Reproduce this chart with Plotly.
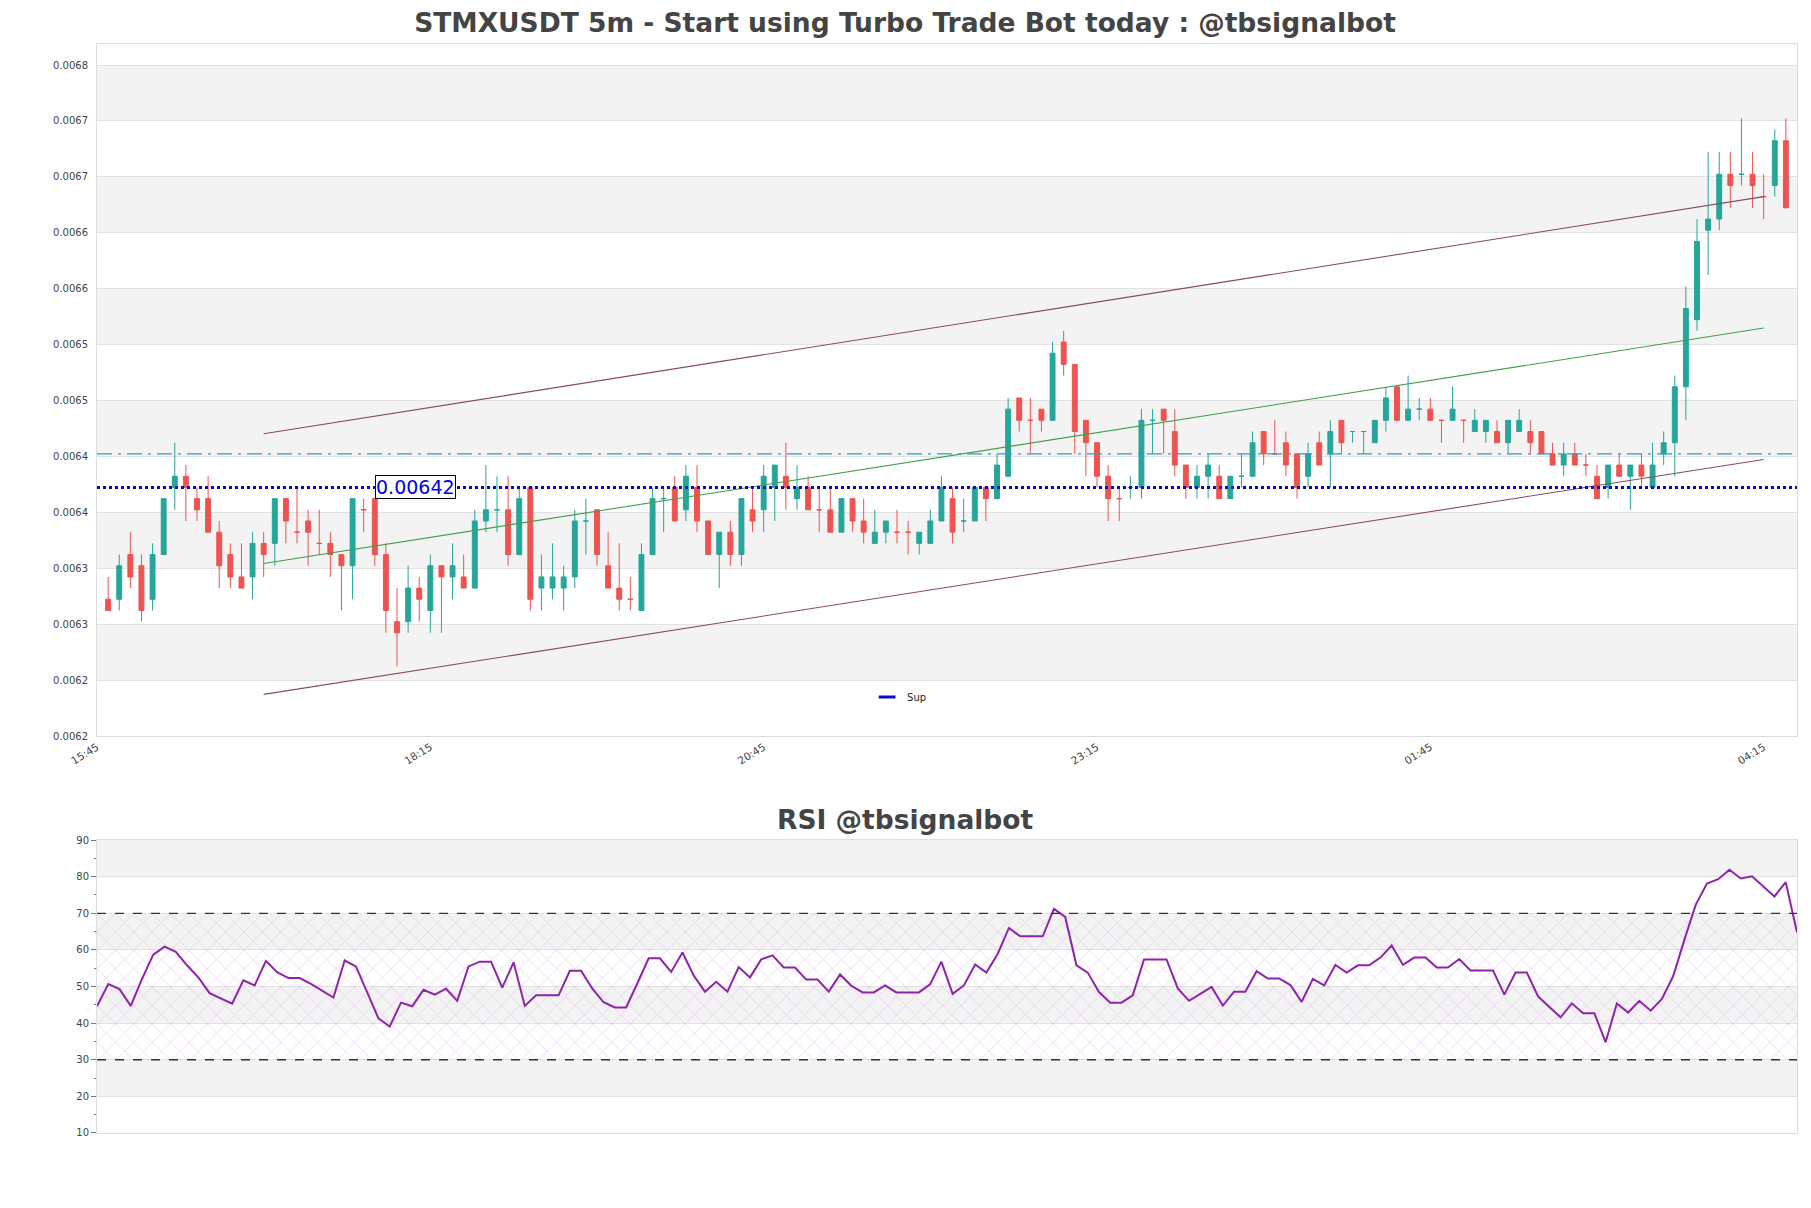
import pandas as pd
import plotly.graph_objects as go

TITLE = "STMXUSDT 5m - Start using Turbo Trade Bot today : @tbsignalbot"
RSI_TITLE = "RSI @tbsignalbot"
START = "2024-03-14 15:50"
STEP = pd.Timedelta(minutes=5)
PRICE_UNIT = 1e-5

# OHLC in units of 0.00001
OPEN = [632, 632, 636, 635, 632, 636, 642, 643, 641, 641, 638, 636, 634, 634, 637, 637, 641, 638, 639, 637,
        637, 636, 635, 640, 641, 636, 630, 630, 633, 631, 635, 634, 634, 633, 639, 640, 640, 636, 642, 633,
        633, 633, 634, 639, 640, 635, 633, 632, 631, 636, 641, 642, 640, 642, 639, 636, 638, 636, 640, 640,
        642, 643, 641, 642, 640, 640, 638, 641, 639, 637, 638, 638, 638, 637, 637, 639, 641, 639, 639, 642,
        641, 643, 650, 648, 649, 648, 655, 653, 648, 646, 643, 641, 642, 642, 648, 649, 647, 644, 642, 643,
        643, 641, 643, 643, 647, 645, 646, 645, 643, 646, 645, 648, 647, 647, 646, 648, 651, 648, 649, 649,
        648, 648, 648, 647, 647, 647, 646, 647, 647, 647, 645, 644, 645, 644, 643, 642, 644, 643, 644, 642,
        645, 646, 651, 657, 665, 666, 670, 670, 670, 668, 669, 673]
CLOSE = [631, 635, 634, 631, 636, 641, 643, 642, 640, 638, 635, 634, 633, 637, 636, 641, 639, 638, 638, 637,
         636, 635, 641, 640, 636, 631, 629, 633, 632, 635, 634, 635, 633, 639, 640, 640, 636, 641, 632, 634,
         634, 634, 639, 639, 636, 633, 632, 632, 636, 641, 641, 639, 643, 639, 636, 638, 636, 641, 639, 643,
         644, 642, 642, 640, 640, 638, 641, 639, 638, 638, 639, 638, 638, 638, 639, 642, 638, 639, 642, 641,
         644, 649, 648, 648, 648, 654, 653, 647, 646, 643, 641, 641, 642, 648, 648, 648, 644, 642, 643, 644,
         641, 643, 643, 646, 645, 645, 644, 642, 645, 644, 647, 646, 647, 647, 648, 650, 648, 649, 649, 648,
         648, 649, 648, 648, 648, 646, 648, 648, 646, 645, 644, 645, 644, 644, 641, 644, 643, 644, 643, 644,
         646, 651, 658, 664, 666, 670, 669, 670, 669, 668, 673, 667]
HIGH = [634, 636, 638, 636, 637, 641, 646, 644, 642, 643, 639, 637, 637, 638, 638, 641, 641, 642, 640, 640,
        638, 636, 641, 641, 641, 637, 633, 635, 634, 636, 635, 637, 636, 640, 644, 643, 643, 642, 642, 636,
        637, 635, 640, 641, 640, 638, 637, 634, 637, 642, 642, 643, 644, 644, 639, 638, 639, 641, 642, 644,
        644, 646, 644, 643, 642, 642, 641, 641, 641, 640, 639, 640, 639, 638, 640, 643, 642, 641, 642, 642,
        645, 650, 650, 650, 649, 655, 656, 653, 648, 646, 644, 642, 643, 649, 649, 649, 649, 644, 644, 645,
        644, 643, 645, 647, 647, 648, 647, 645, 646, 647, 648, 648, 647, 647, 648, 651, 651, 652, 650, 650,
        648, 651, 648, 649, 648, 648, 648, 649, 648, 647, 646, 646, 646, 645, 644, 644, 645, 644, 645, 646,
        647, 652, 660, 666, 672, 672, 672, 675, 672, 670, 674, 675]
LOW = [631, 631, 633, 630, 631, 636, 640, 639, 639, 638, 633, 633, 633, 632, 634, 635, 637, 637, 635, 636,
       634, 631, 632, 638, 635, 629, 626, 629, 630, 629, 629, 632, 633, 633, 638, 638, 635, 636, 631, 631,
       632, 631, 633, 636, 635, 633, 631, 631, 631, 636, 638, 639, 639, 638, 636, 633, 635, 635, 638, 638,
       639, 640, 640, 640, 638, 638, 638, 638, 637, 637, 637, 637, 636, 636, 637, 639, 637, 638, 639, 639,
       641, 643, 647, 645, 647, 648, 652, 645, 643, 642, 639, 639, 641, 641, 645, 645, 643, 641, 641, 641,
       641, 641, 642, 643, 644, 645, 643, 641, 642, 644, 642, 645, 646, 645, 646, 647, 648, 648, 648, 648,
       646, 648, 646, 647, 646, 646, 645, 647, 645, 645, 644, 643, 644, 643, 641, 641, 643, 640, 642, 642,
       644, 643, 648, 656, 661, 665, 667, 669, 667, 666, 668, 667]

RSI = [44.6, 50.7, 49.3, 44.7, 52.1, 58.7, 60.9, 59.5, 55.8, 52.5, 48.2, 46.7, 45.3, 51.7, 50.3, 57.0,
       53.9, 52.3, 52.3, 50.7, 48.8, 47.0, 57.1, 55.5, 48.4, 41.3, 39.1, 45.6, 44.6, 49.1, 47.8, 49.4,
       46.1, 55.5, 56.8, 56.8, 49.7, 56.6, 44.7, 47.6, 47.6, 47.6, 54.3, 54.3, 49.4, 45.7, 44.3, 44.3,
       50.9, 57.7, 57.7, 54.0, 59.3, 53.0, 48.6, 51.3, 48.6, 55.3, 52.5, 57.4, 58.5, 55.2, 55.2, 51.9,
       51.9, 48.6, 53.3, 50.2, 48.4, 48.4, 50.3, 48.4, 48.4, 48.4, 50.6, 56.8, 48.0, 50.3, 56.0, 53.8,
       58.9, 66.0, 63.7, 63.7, 63.7, 71.2, 69.0, 55.8, 53.8, 48.5, 45.6, 45.6, 47.6, 57.4, 57.4, 57.4,
       49.5, 46.1, 48.0, 49.9, 44.8, 48.6, 48.6, 54.2, 52.2, 52.2, 50.4, 45.8, 52.1, 50.3, 55.9, 53.8,
       55.8, 55.8, 57.9, 61.2, 55.9, 57.9, 57.9, 55.2, 55.2, 57.5, 54.4, 54.4, 54.4, 47.8, 53.8, 53.8,
       47.3, 44.4, 41.6, 45.4, 42.7, 42.7, 34.8, 45.4, 42.9, 46.1, 43.4, 46.6, 52.8, 62.8, 72.3, 78.1,
       79.3, 81.9, 79.5, 80.1, 77.3, 74.6, 78.5, 64.8]

SUP_LEVEL = 0.00642
CYAN_LEVEL = 0.00645
CHANNEL_IDX = [14, 149]
UPPER = [0.006468, 0.006680]
MID = [0.006352, 0.0065625]
LOWER = [0.006235, 0.006445]
ANNOT_INDEX = 27.7

X_TICK_TIMES = ["2024-03-14 15:45", "2024-03-14 18:15", "2024-03-14 20:45",
                "2024-03-14 23:15", "2024-03-15 01:45", "2024-03-15 04:15"]
X_TICK_LABELS = ["15:45", "18:15", "20:45", "23:15", "01:45", "04:15"]
Y_TICK_START = 0.0061977
Y_TICK_STEP = 0.00005
Y_TICK_LABELS = ["0.0062", "0.0062", "0.0063", "0.0063", "0.0064", "0.0064", "0.0065",
                 "0.0065", "0.0066", "0.0066", "0.0067", "0.0067", "0.0068"]
Y_TOP = 0.0068165
RSI_TICKS = [10, 20, 30, 40, 50, 60, 70, 80, 90]
RSI_GRAY_BANDS = [(80, 90), (60, 70), (40, 50), (20, 30)]
RSI_LEVELS = [30, 70]

FONT = "DejaVu Sans"
TXT = "#444444"
W, H = 1795, 1192  # page adds an 8px body margin

t = pd.date_range(START, periods=len(OPEN), freq=STEP)
o = [v * PRICE_UNIT for v in OPEN]
c = [v * PRICE_UNIT for v in CLOSE]
h = [v * PRICE_UNIT for v in HIGH]
l = [v * PRICE_UNIT for v in LOW]
y_ticks = [Y_TICK_START + k * Y_TICK_STEP for k in range(len(Y_TICK_LABELS))]

fig = go.Figure()

# RSI hatch zone 30-70
fig.add_trace(go.Scatter(
    x=[t[0], t[-1], t[-1], t[0], t[0]],
    y=[RSI_LEVELS[0], RSI_LEVELS[0], RSI_LEVELS[1], RSI_LEVELS[1], RSI_LEVELS[0]],
    xaxis="x2", yaxis="y2", mode="lines", line=dict(width=0), fill="toself",
    fillcolor="rgba(0,0,0,0)",
    fillpattern=dict(shape="x", size=13, solidity=0.12, fgcolor="rgba(205,150,220,0.75)"),
    showlegend=False, hoverinfo="skip"))

fig.add_trace(go.Candlestick(
    x=t, open=o, high=h, low=l, close=c,
    increasing=dict(line=dict(color="#26a69a", width=1), fillcolor="#26a69a"),
    decreasing=dict(line=dict(color="#ef5350", width=1), fillcolor="#ef5350"),
    showlegend=False, xaxis="x", yaxis="y"))

ch_x = [t[CHANNEL_IDX[0]], t[CHANNEL_IDX[1]]]
for vals, col in [(UPPER, "#8a4b5c"), (LOWER, "#8a4b5c"), (MID, "#3f9f4f")]:
    fig.add_trace(go.Scatter(x=ch_x, y=vals, mode="lines", line=dict(color=col, width=1.1),
                             showlegend=False, hoverinfo="skip", xaxis="x", yaxis="y"))

x_lo = t[0] - STEP
x_hi = t[-1] + STEP
fig.add_trace(go.Scatter(x=[x_lo, x_hi], y=[CYAN_LEVEL, CYAN_LEVEL], mode="lines",
                         line=dict(color="#2b9bd3", width=1.2, dash="longdashdot"),
                         showlegend=False, hoverinfo="skip", xaxis="x", yaxis="y"))
fig.add_trace(go.Scatter(x=[x_lo, x_hi], y=[SUP_LEVEL, SUP_LEVEL], mode="lines",
                         line=dict(color="#0a0ac0", width=3, dash="dot"),
                         showlegend=False, hoverinfo="skip", xaxis="x", yaxis="y", legendgroup="sup"))
fig.add_trace(go.Scatter(x=[None], y=[None], mode="markers", name="Sup", legendgroup="sup",
                         marker=dict(symbol="line-ew", size=12, line=dict(width=3, color="#0a0ac0")),
                         xaxis="x", yaxis="y"))

fig.add_trace(go.Scatter(x=t, y=RSI, mode="lines", line=dict(color="#8e24aa", width=2),
                         showlegend=False, xaxis="x2", yaxis="y2"))

shapes = []
for k in range(1, len(y_ticks) - 1, 2):
    shapes.append(dict(type="rect", xref="x domain", yref="y", x0=0, x1=1, y0=y_ticks[k], y1=y_ticks[k + 1],
                       fillcolor="#f3f3f3", line=dict(width=0), layer="below"))
for a, b in RSI_GRAY_BANDS:
    shapes.append(dict(type="rect", xref="x2 domain", yref="y2", x0=0, x1=1, y0=a, y1=b,
                       fillcolor="#f3f3f3", line=dict(width=0), layer="below"))
for lv in RSI_LEVELS:
    shapes.append(dict(type="line", xref="x2 domain", yref="y2", x0=0, x1=1, y0=lv, y1=lv,
                       line=dict(color="#333333", width=1.3, dash="dash")))

annot_x = t[0] + STEP * ANNOT_INDEX
annotations = [
    dict(x=annot_x, y=SUP_LEVEL, xref="x", yref="y", text=f"{SUP_LEVEL:.5f}", showarrow=False,
         font=dict(family=FONT, size=19, color="#0000ee"), bgcolor="white", bordercolor="black",
         borderwidth=1, borderpad=0),
    dict(x=0.4753, y=(1125 - 811) / 1089, xref="paper", yref="paper", text=f"<b>{RSI_TITLE}</b>",
         showarrow=False, font=dict(family=FONT, size=26.5, color=TXT), yanchor="middle"),
]

axis_line = dict(showline=True, linecolor="#dddddd", linewidth=1, mirror=True, zeroline=False)

fig.update_layout(
    width=W, height=H,
    margin=dict(l=89, r=6, t=36, b=67),
    paper_bgcolor="white", plot_bgcolor="white",
    font=dict(family=FONT, size=10, color=TXT),
    title=dict(text=f"<b>{TITLE}</b>", x=(905 - 8) / W, xanchor="center", y=1 - 15 / H, yanchor="middle",
               font=dict(family=FONT, size=26.5, color=TXT)),
    boxgap=0.37,
    showlegend=True,
    legend=dict(x=0.453, y=0.4004, xanchor="left", yanchor="middle", bgcolor="rgba(0,0,0,0)",
                font=dict(family=FONT, size=10, color="#222222")),
    xaxis=dict(domain=[0, 1], anchor="y", type="date", range=[x_lo, x_hi], rangeslider=dict(visible=False),
               tickvals=X_TICK_TIMES, ticktext=X_TICK_LABELS, tickangle=-32, showgrid=False,
               tickfont=dict(size=10.5, color=TXT), **axis_line),
    yaxis=dict(domain=[0.3645, 1], anchor="x", range=[Y_TICK_START, Y_TOP], tickvals=y_ticks,
               ticktext=Y_TICK_LABELS, showgrid=True, gridcolor="#e2e2e2", gridwidth=1,
               ticks="outside", ticklen=6, tickcolor="rgba(0,0,0,0)",
               tickfont=dict(size=10, color=TXT), **axis_line),
    xaxis2=dict(domain=[0, 1], anchor="y2", type="date", range=[t[0], t[-1]], showticklabels=False,
                showgrid=False, **axis_line),
    yaxis2=dict(domain=[0, 0.269], anchor="x2", range=[10, 90], tickvals=RSI_TICKS, showgrid=True,
                gridcolor="#e2e2e2", ticks="outside", ticklen=5, tickcolor="#777777",
                minor=dict(ticks="outside", ticklen=2, dtick=5, tickcolor="#777777", showgrid=False),
                tickfont=dict(size=10, color=TXT), **axis_line),
    shapes=shapes,
    annotations=annotations,
)

fig.write_html("out.html")
